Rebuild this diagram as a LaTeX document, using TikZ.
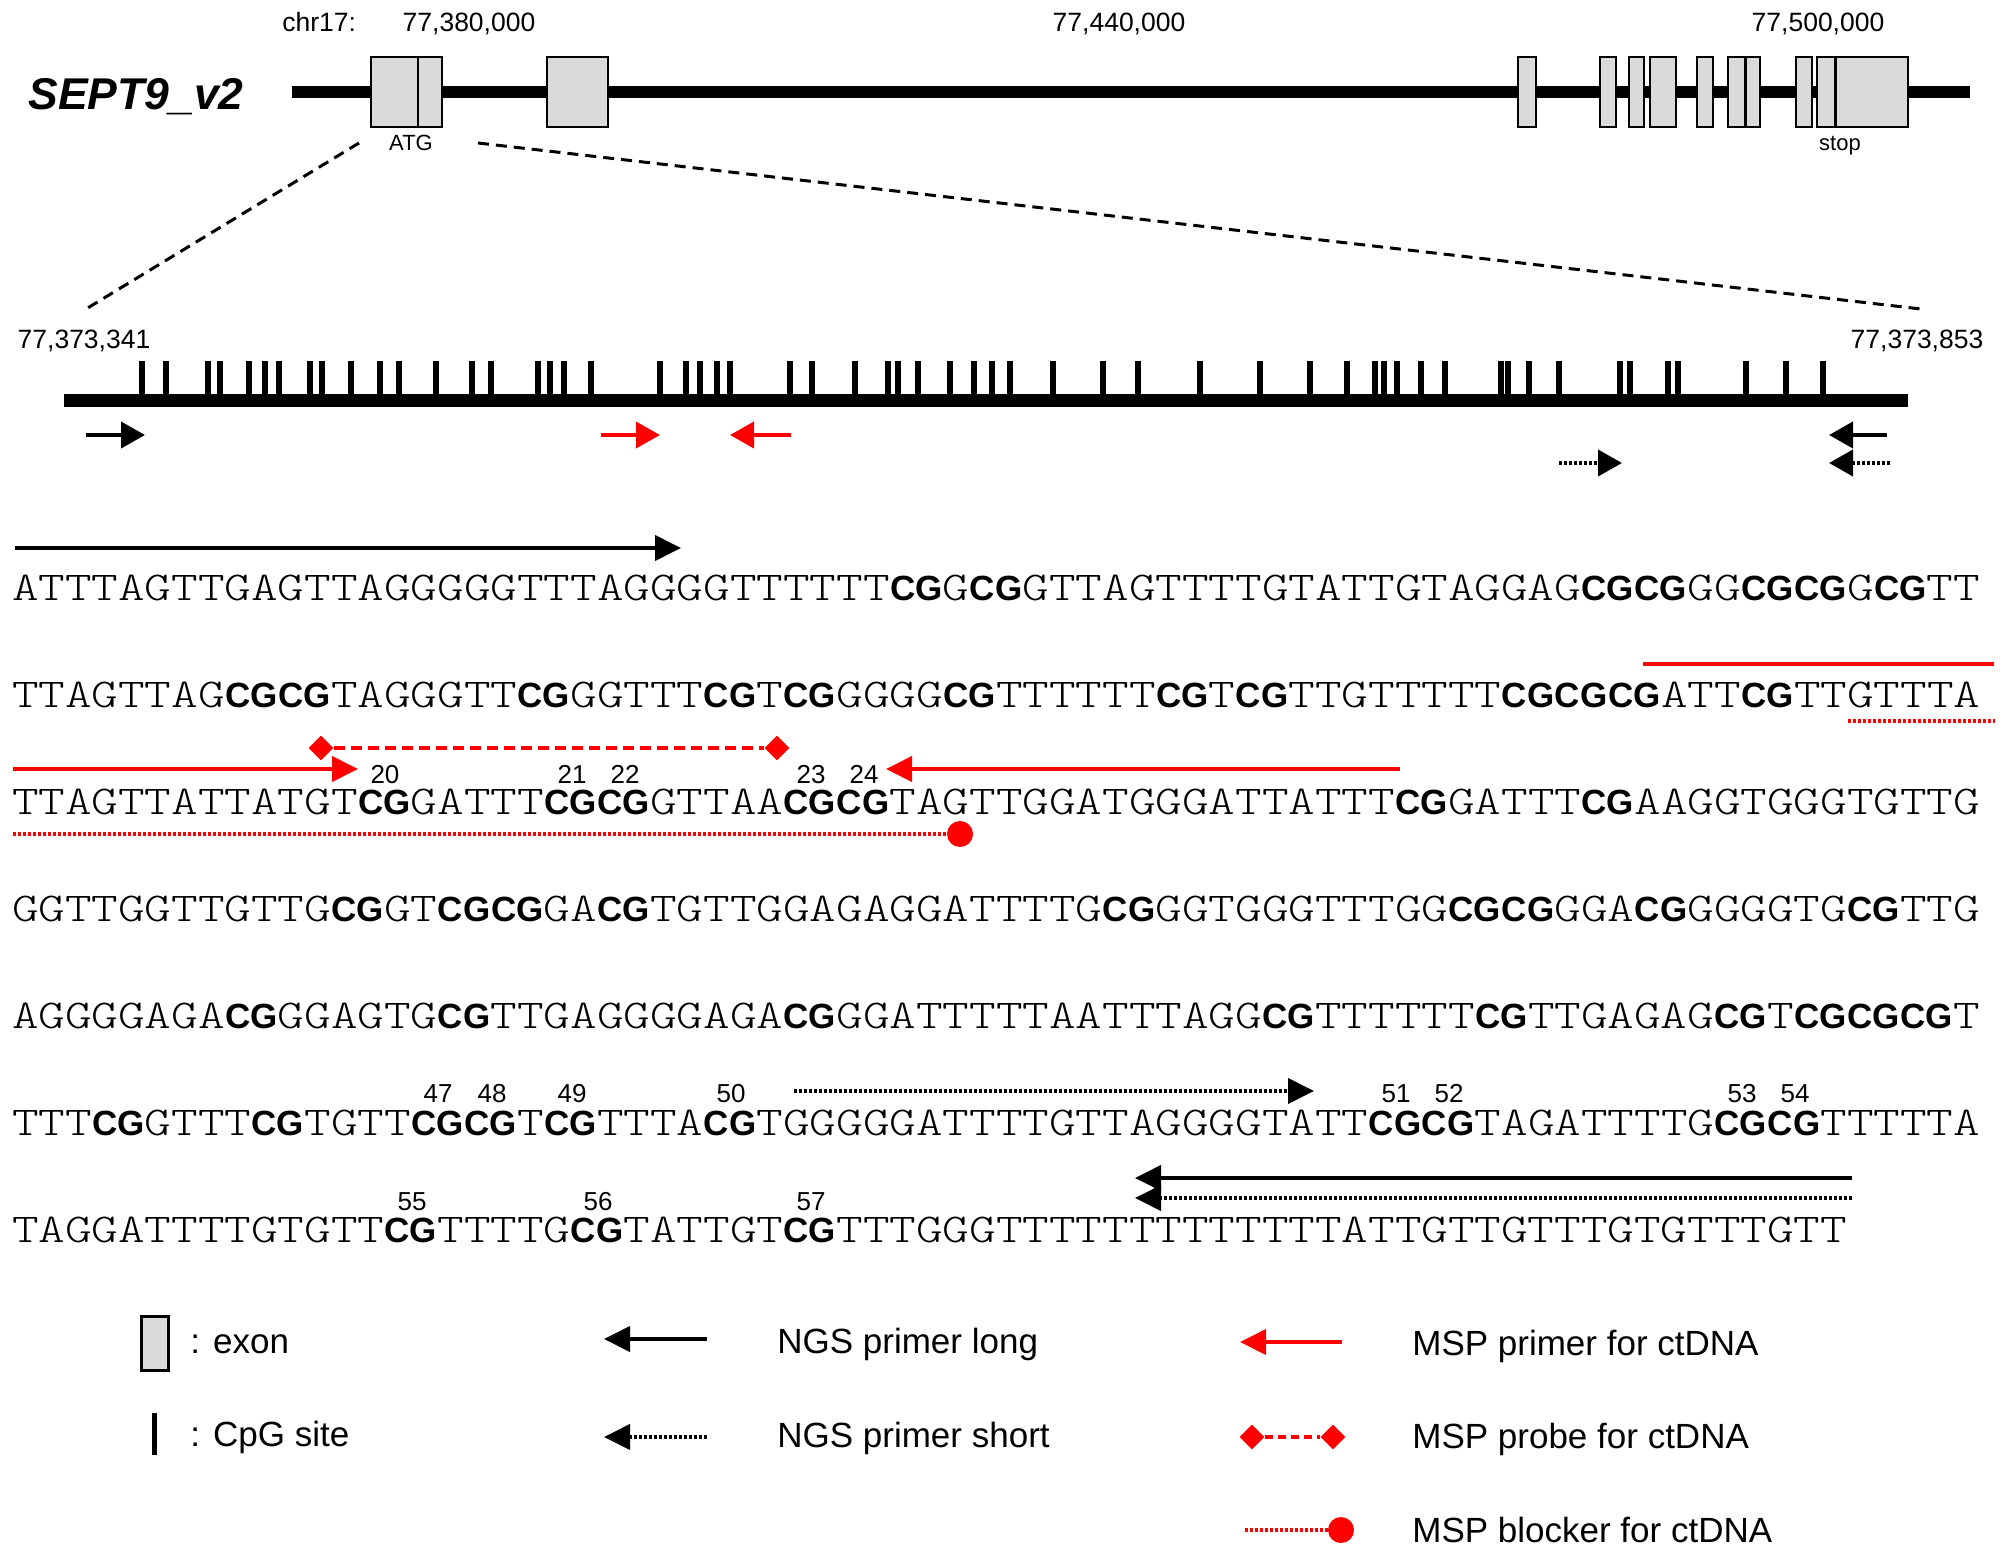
\documentclass[tikz,border=0pt]{standalone}
\usepackage{fontspec}
\setmainfont{Liberation Sans}
\newfontfamily\seqfont{Latin Modern Mono Light}[FakeStretch=1.238]
\newfontfamily\cgfont{Liberation Sans}
\usetikzlibrary{arrows.meta,shapes.geometric}
\definecolor{msred}{RGB}{255,0,0}
\definecolor{exongray}{RGB}{218,218,218}
\newcommand\cg{\makebox[26.6pt][c]{\cgfont\fontsize{17.5pt}{18pt}\selectfont\bfseries CG}}
\tikzset{
  seq/.style={anchor=base west, inner sep=0pt, outer sep=0pt, font=\fontsize{20.46pt}{24pt}\seqfont},
  lab/.style={anchor=base, inner sep=0pt, font=\fontsize{13.25pt}{14pt}\selectfont},
  num/.style={anchor=base, inner sep=0pt, font=\fontsize{13pt}{14pt}\selectfont},
  small/.style={anchor=base, inner sep=0pt, font=\fontsize{11pt}{12pt}\selectfont},
  legtext/.style={anchor=base west, inner sep=0pt, font=\fontsize{17.5pt}{18pt}\selectfont},
  exon/.style={draw=black, line width=1pt, fill=exongray},
  cpgtick/.style={line width=3pt},
  tipA/.style={-{Triangle[length=13pt,width=12.5pt]}},
  tipB/.style={-{Triangle[length=12pt,width=13pt]}},
  solidln/.style={line width=2pt},
  dotln/.style={line width=2pt, dash pattern=on 1.5pt off 1pt},
  probeln/.style={line width=2pt, dash pattern=on 5.5pt off 3pt, msred},
  zoomln/.style={line width=1.5pt, dash pattern=on 5.5pt off 3.5pt},
  probetip/.style={diamond, fill=msred, inner sep=0pt, minimum width=12.5pt, minimum height=12.5pt},
  blocktip/.style={circle, fill=msred, inner sep=0pt, minimum size=13pt}
}
\begin{document}
\begin{tikzpicture}[x=0.5pt,y=-0.5pt]
\useasboundingbox (0,0) rectangle (2008,1557);
\fill[white] (0,0) rectangle (2008,1557);

% ---------- gene model ----------
\node[anchor=base west, inner sep=0pt, font=\fontsize{22.25pt}{24pt}\selectfont\bfseries\itshape] (gname) at (28,110) {SEPT9\_v2};
\node[anchor=base west, inner sep=0pt, font=\fontsize{13.25pt}{14pt}\selectfont] (chr) at (282,32) {chr17:};
\node[lab] (p1) at (469,32) {77,380,000};
\node[lab] (p2) at (1119,32) {77,440,000};
\node[lab] (p3) at (1818,32) {77,500,000};
\draw[line width=6pt] (292,92) -- (1970,92);
\foreach \a/\b in {371/418,418/442,547/608,1518/1536,1600/1616,1629/1644,1650/1676,1697/1713,1728/1745,1746/1760,1796/1812,1817/1835,1836/1908}
  \draw[exon] (\a,57) rectangle (\b,127);
\node[small] (atg) at (411,151) {ATG};
\node[small] (stop) at (1840,151) {stop};

% zoom lines
\coordinate (za) at (359,143);
\coordinate (zb) at (86,309);
\coordinate (zc) at (478,143);
\coordinate (zd) at (1921,309);
\draw[zoomln] (za) -- (zb);
\draw[zoomln] (zc) -- (zd);

% ---------- CpG track ----------
\node[lab] (s1) at (84,349) {77,373,341};
\node[lab] (s2) at (1917,349) {77,373,853};
\foreach \x in {142,166,208,220,249,265,279,310,322,351,380,399,436,472,491,538,550,564,591,660,686,700,717,730,790,812,855,888,898,918,950,974,992,1010,1053,1103,1138,1200,1260,1310,1347,1375,1384,1397,1421,1445,1501,1508,1529,1559,1620,1630,1668,1678,1746,1786,1823}
  \draw[cpgtick] (\x,361) -- (\x,396);
\draw[line width=6.5pt] (64,400) -- (1908,400);

% small primer arrows on track
\coordinate (t1a) at (86,435);   \coordinate (t1b) at (145,435);
\coordinate (t2a) at (601,435);  \coordinate (t2b) at (660,435);
\coordinate (t3a) at (791,435);  \coordinate (t3b) at (730,435);
\coordinate (t4a) at (1887,435); \coordinate (t4b) at (1829,435);
\coordinate (t5a) at (1890,463); \coordinate (t5b) at (1829,463);
\coordinate (t6a) at (1559,463); \coordinate (t6b) at (1622,463);
\draw[solidln,tipB] (t1a) -- (t1b);
\draw[solidln,tipB,msred] (t2a) -- (t2b);
\draw[solidln,tipB,msred] (t3a) -- (t3b);
\draw[solidln,tipB] (t4a) -- (t4b);
\draw[dotln,tipB] (t5a) -- (t5b);
\draw[dotln,tipB] (t6a) -- (t6b);

% ---------- sequence ----------
\node[seq] (r1) at (12,600) {ATTTAGTTGAGTTAGGGGGTTTAGGGGTTTTTT\cg G\cg GTTAGTTTTGTATTGTAGGAG\cg\cg GG\cg\cg G\cg TT};
\node[seq] (r2) at (12,707) {TTAGTTAG\cg\cg TAGGGTT\cg GGTTT\cg T\cg GGGG\cg TTTTTT\cg T\cg TTGTTTTT\cg\cg\cg ATT\cg TTGTTTA};
\node[seq] (r3) at (12,814) {TTAGTTATTATGT\cg GATTT\cg\cg GTTAA\cg\cg TAGTTGGATGGGATTATTT\cg GATTT\cg AAGGTGGGTGTTG};
\node[seq] (r4) at (12,921) {GGTTGGTTGTTG\cg GT\cg\cg GA\cg TGTTGGAGAGGATTTTG\cg GGTGGGTTTGG\cg\cg GGA\cg GGGGTG\cg TTG};
\node[seq] (r5) at (12,1028) {AGGGGAGA\cg GGAGTG\cg TTGAGGGGAGA\cg GGATTTTTAATTTAGG\cg TTTTTT\cg TTGAGAG\cg T\cg\cg\cg T};
\node[seq] (r6) at (12,1135) {TTT\cg GTTT\cg TGTT\cg\cg T\cg TTTA\cg TGGGGGATTTTGTTAGGGGTATT\cg\cg TAGATTTTG\cg\cg TTTTTA};
\node[seq] (r7) at (12,1242) {TAGGATTTTGTGTT\cg TTTTG\cg TATTGT\cg TTTGGGTTTTTTTTTTTTTATTGTTGTTTGTGTTTGTT};

% CpG numbers
\foreach \n/\x in {20/385,21/572,22/625,23/811,24/864}
  \node[num] (n\n) at (\x,783) {\n};
\foreach \n/\x in {47/438,48/492,49/572,50/731,51/1396,52/1449,53/1742,54/1795}
  \node[num] (n\n) at (\x,1102) {\n};
\foreach \n/\x in {55/412,56/598,57/811}
  \node[num] (n\n) at (\x,1210) {\n};

% primers on the sequence
\coordinate (a1a) at (15,548);   \coordinate (a1b) at (681,548);
\draw[solidln,tipA] (a1a) -- (a1b);
\coordinate (m1a) at (1643,664); \coordinate (m1b) at (1994,664);
\draw[solidln,msred] (m1a) -- (m1b);
\coordinate (m2a) at (13,769);   \coordinate (m2b) at (358,769);
\draw[solidln,msred,tipA] (m2a) -- (m2b);
\coordinate (m3a) at (1400,769); \coordinate (m3b) at (886,769);
\draw[solidln,msred,tipA] (m3a) -- (m3b);
\node[probetip] (pd1) at (321,748) {};
\node[probetip] (pd2) at (777,748) {};
\draw[probeln] (pd1) -- (pd2);
\coordinate (b1a) at (1848,721); \coordinate (b1b) at (1995,721);
\draw[dotln,msred] (b1a) -- (b1b);
\node[blocktip] (bk) at (960,834) {};
\coordinate (b2a) at (13,834);
\draw[dotln,msred] (b2a) -- (bk.west);
\coordinate (d1a) at (794,1091); \coordinate (d1b) at (1314,1091);
\draw[dotln,tipA] (d1a) -- (d1b);
\coordinate (l1a) at (1852,1178); \coordinate (l1b) at (1135,1178);
\draw[solidln,tipA] (l1a) -- (l1b);
\coordinate (l2a) at (1852,1198); \coordinate (l2b) at (1135,1198);
\draw[dotln,tipA] (l2a) -- (l2b);

% ---------- legend ----------
\draw[line width=1.5pt, fill=exongray] (141,1316) rectangle (168,1370);
\node[legtext] (lg1) at (190,1353) {: exon};
\draw[line width=2.5pt] (154,1413) -- (154,1455);
\node[legtext] (lg2) at (190,1446) {: CpG site};
\coordinate (g1a) at (707,1339); \coordinate (g1b) at (604,1339);
\draw[solidln,tipA] (g1a) -- (g1b);
\node[legtext] (lg3) at (777,1353) {NGS primer long};
\coordinate (g2a) at (707,1437); \coordinate (g2b) at (604,1437);
\draw[dotln,tipA] (g2a) -- (g2b);
\node[legtext] (lg4) at (777,1447) {NGS primer short};
\coordinate (g3a) at (1342,1342); \coordinate (g3b) at (1240,1342);
\draw[solidln,msred,tipA] (g3a) -- (g3b);
\node[legtext] (lg5) at (1412,1355) {MSP primer for ctDNA};
\node[probetip] (lpd1) at (1252,1437) {};
\node[probetip] (lpd2) at (1333,1437) {};
\draw[probeln, dash pattern=on 4pt off 2.5pt] (lpd1) -- (lpd2);
\node[legtext] (lg6) at (1412,1448) {MSP probe for ctDNA};
\node[blocktip] (lbk) at (1341,1530) {};
\coordinate (g4a) at (1245,1530);
\draw[dotln,msred] (g4a) -- (lbk.west);
\node[legtext] (lg7) at (1412,1542) {MSP blocker for ctDNA};
\end{tikzpicture}
\end{document}
